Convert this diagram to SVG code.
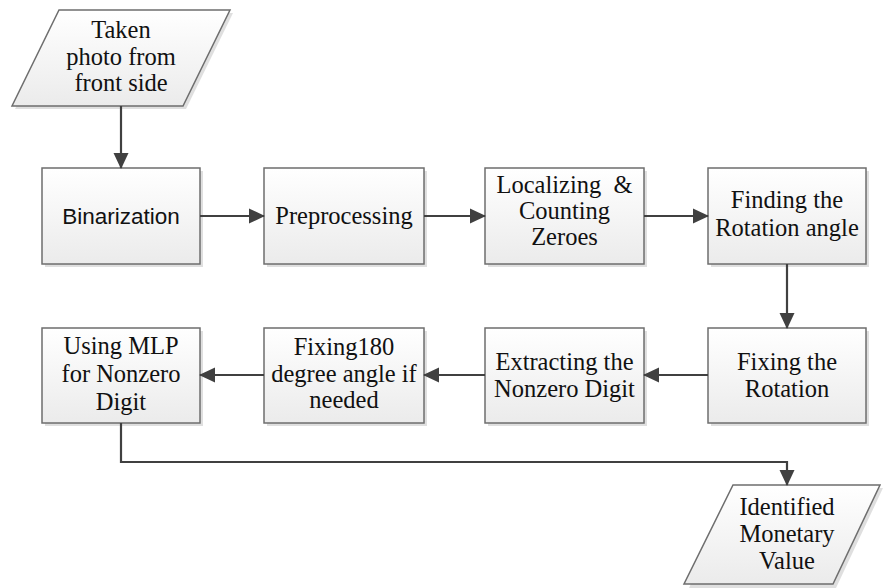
<svg xmlns="http://www.w3.org/2000/svg" width="884" height="588" viewBox="0 0 884 588">
<defs>
<linearGradient id="g" x1="0" y1="0" x2="0" y2="1">
<stop offset="0" stop-color="#ffffff"/>
<stop offset="1" stop-color="#ebebeb"/>
</linearGradient>
<marker id="ah" viewBox="0 0 16 16" refX="15" refY="8" markerWidth="16" markerHeight="16" markerUnits="userSpaceOnUse" orient="auto">
<path d="M0,0.5 L16,8 L0,15.5 z" fill="#404040"/>
</marker>
</defs>
<style>
.sh{fill:#dfdfdf;stroke:none}
.bx{fill:url(#g);stroke:#6e6e6e;stroke-width:1.5}
.t{font-family:"Liberation Serif","Times New Roman",serif;font-size:24.5px;fill:#111;text-anchor:middle}
.s{font-family:"Liberation Sans",Arial,sans-serif;font-size:22.5px;fill:#111;text-anchor:middle}
.c{fill:none;stroke:#404040;stroke-width:2.2;marker-end:url(#ah)}
</style>
<rect width="884" height="588" fill="#ffffff"/>

<g id="n-photo">
<polygon class="sh" points="62,13 233,13 186,109 15,109"/>
<polygon class="bx" points="59,10 230,10 183,106 12,106"/>
<text class="t" x="121" y="38">Taken</text>
<text class="t" x="121" y="65">photo from</text>
<text class="t" x="121" y="91">front side</text>
</g>

<g id="n-binarization">
<rect class="sh" x="45" y="171" width="158" height="96"/>
<rect class="bx" x="42" y="168" width="158" height="96"/>
<text class="s" x="121" y="224">Binarization</text>
</g>

<g id="n-preprocessing">
<rect class="sh" x="267" y="171" width="160" height="96"/>
<rect class="bx" x="264" y="168" width="160" height="96"/>
<text class="t" x="344" y="224">Preprocessing</text>
</g>

<g id="n-localizing">
<rect class="sh" x="488" y="171" width="159" height="96"/>
<rect class="bx" x="485" y="168" width="159" height="96"/>
<text class="t" x="564.5" y="193">Localizing &#160;&amp;</text>
<text class="t" x="564.5" y="219">Counting</text>
<text class="t" x="564.5" y="245">Zeroes</text>
</g>

<g id="n-finding">
<rect class="sh" x="711" y="171" width="158" height="96"/>
<rect class="bx" x="708" y="168" width="158" height="96"/>
<text class="t" x="787" y="208">Finding the</text>
<text class="t" x="787" y="236">Rotation angle</text>
</g>

<g id="n-fixrot">
<rect class="sh" x="711" y="331" width="158" height="95"/>
<rect class="bx" x="708" y="328" width="158" height="95"/>
<text class="t" x="787" y="370">Fixing the</text>
<text class="t" x="787" y="397">Rotation</text>
</g>

<g id="n-extract">
<rect class="sh" x="488" y="331" width="159" height="95"/>
<rect class="bx" x="485" y="328" width="159" height="95"/>
<text class="t" x="564.5" y="370">Extracting the</text>
<text class="t" x="564.5" y="397">Nonzero Digit</text>
</g>

<g id="n-fix180">
<rect class="sh" x="267" y="331" width="160" height="95"/>
<rect class="bx" x="264" y="328" width="160" height="95"/>
<text class="t" x="344" y="355">Fixing180</text>
<text class="t" x="344" y="382">degree angle if</text>
<text class="t" x="344" y="408">needed</text>
</g>

<g id="n-mlp">
<rect class="sh" x="45" y="331" width="158" height="95"/>
<rect class="bx" x="42" y="328" width="158" height="95"/>
<text class="t" x="121" y="354">Using MLP</text>
<text class="t" x="121" y="382">for Nonzero</text>
<text class="t" x="121" y="410">Digit</text>
</g>

<g id="n-value">
<polygon class="sh" points="736,488 883,488 836,588 689,588"/>
<polygon class="bx" points="733,485 880,485 833,584 684,584"/>
<text class="t" x="787" y="515">Identified</text>
<text class="t" x="787" y="542">Monetary</text>
<text class="t" x="787" y="569">Value</text>
</g>

<g id="connectors">
<path class="c" d="M121,106 L121,168"/>
<path class="c" d="M200,216 L264,216"/>
<path class="c" d="M424,216 L485,216"/>
<path class="c" d="M644,216 L708,216"/>
<path class="c" d="M787,264 L787,328"/>
<path class="c" d="M708,375 L644,375"/>
<path class="c" d="M485,375 L424,375"/>
<path class="c" d="M264,375 L200,375"/>
<path class="c" d="M121,423 L121,462 L787,462 L787,485"/>
</g>
</svg>
